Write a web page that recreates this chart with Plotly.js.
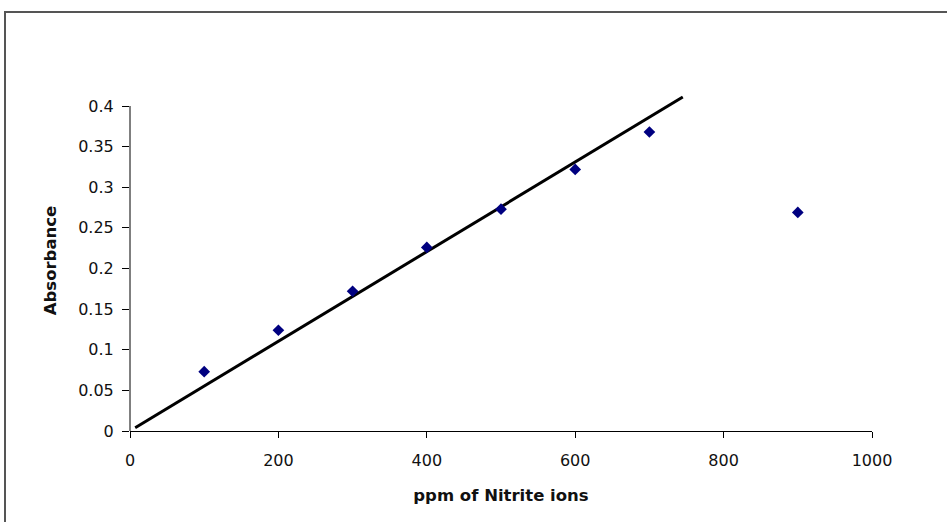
<!DOCTYPE html>
<html>
<head>
<meta charset="utf-8">
<script src="https://cdn.plot.ly/plotly-2.35.2.min.js"></script>
<style>
html,body{margin:0;padding:0;background:#fff;overflow:hidden;}
#wrap{position:relative;width:947px;height:522px;}
#chart{width:947px;height:522px;}
#frame{position:absolute;left:4px;top:11px;width:1000px;height:600px;border-left:2px solid #555;border-top:2px solid #555;pointer-events:none;}
</style>
</head>
<body>
<div id="wrap"><div id="chart"></div><div id="frame"></div></div>
<script>
const ppm = [100, 200, 300, 400, 500, 600, 700, 900];
const absorbance = [0.073, 0.124, 0.172, 0.226, 0.273, 0.322, 0.368, 0.269];
const trendX = [7, 745];
const trendY = [0.004, 0.411];
const xTicks = [0, 200, 400, 600, 800, 1000];
const yTicks = [0, 0.05, 0.1, 0.15, 0.2, 0.25, 0.3, 0.35, 0.4];

const data = [
  {x: trendX, y: trendY, mode: 'lines', type: 'scatter',
   line: {color: '#000', width: 3}, hoverinfo: 'skip', showlegend: false},
  {x: ppm, y: absorbance, mode: 'markers', type: 'scatter',
   marker: {symbol: 'diamond', size: 9, color: '#000080'}, showlegend: false}
];
const fnt = {family: 'DejaVu Sans, sans-serif', size: 16, color: '#111'};
const tfnt = {family: 'DejaVu Sans, sans-serif', size: 16.5, color: '#111'};
const yMax = yTicks[yTicks.length - 1];
const layout = {
  width: 947, height: 522,
  margin: {l: 130, r: 75, t: 90, b: 91},
  paper_bgcolor: '#fff', plot_bgcolor: '#fff',
  showlegend: false,
  xaxis: {range: [0, 1000], tickvals: xTicks, ticktext: xTicks.map(String),
    showgrid: false, zeroline: false, showline: true, linecolor: '#000', linewidth: 1,
    ticks: 'outside', ticklen: 6, tickcolor: '#000', tickfont: fnt, ticklabelstandoff: 9,
    title: {text: '<b>ppm of Nitrite ions</b>', font: tfnt, standoff: 20}},
  yaxis: {range: [0, yMax * 341 / 325], tickvals: yTicks, ticktext: yTicks.map(String),
    showgrid: false, zeroline: false, showline: false,
    ticks: 'outside', ticklen: 7, tickcolor: '#000', tickfont: fnt, ticklabelstandoff: 5,
    title: {text: '<b>Absorbance</b>', font: tfnt, standoff: 17}},
  shapes: [{type: 'line', xref: 'paper', yref: 'y', x0: 0, x1: 0, y0: 0, y1: yMax,
    line: {color: '#000', width: 1}}]
};
Plotly.newPlot('chart', data, layout, {staticPlot: true});
</script>
</body>
</html>
